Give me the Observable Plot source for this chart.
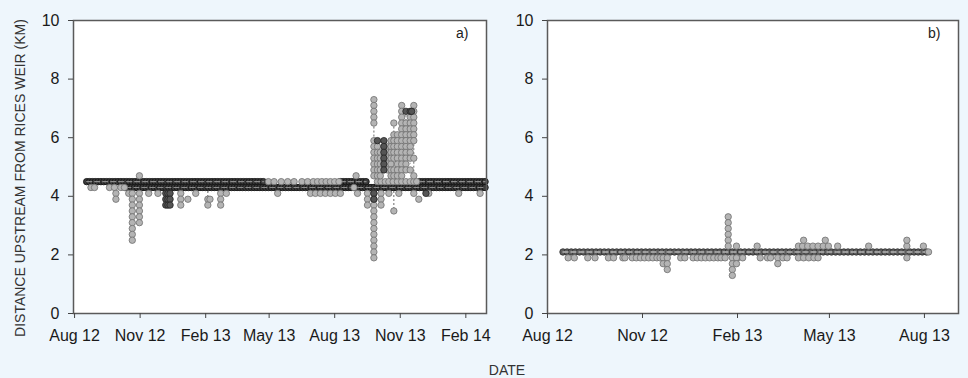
<!DOCTYPE html>
<html>
<head>
<meta charset="utf-8">
<script src="https://cdn.jsdelivr.net/npm/d3@7"></script>
<script src="https://cdn.jsdelivr.net/npm/@observablehq/plot@0.6"></script>
<style>
  html, body { margin: 0; padding: 0; background: #eef6fc; }
  #wrap { position: relative; width: 968px; height: 378px; overflow: hidden; background: #eef6fc; }
  #pa, #pb { position: absolute; top: 0; }
  #pa { left: 0; }
  #pb { left: 490px; }
  .ylab { position: absolute; left: 20px; top: 178px; transform: translate(-50%, -50%) rotate(-90deg);
          white-space: nowrap; font: 14px "Liberation Sans", Arial, sans-serif; color: #333; }
  .xlab { position: absolute; left: 507px; top: 370px; transform: translate(-50%, -50%);
          white-space: nowrap; font: 14px "Liberation Sans", Arial, sans-serif; color: #333; }
</style>
</head>
<body>
<div id="wrap">
  <div id="pa"></div>
  <div id="pb"></div>
  <div class="ylab">DISTANCE UPSTREAM FROM RICES WEIR (KM)</div>
  <div class="xlab">DATE</div>
</div>
<script>
// ---- data: days since 1 Aug 2012, distances in km ----
const DAY0 = Date.UTC(2012, 7, 1);

// tick labels
const aTickDates = ["2012-08-01","2012-11-01","2013-02-01","2013-05-01","2013-08-01","2013-11-01","2014-02-01"];
const bTickDates = ["2012-08-01","2012-11-01","2013-02-01","2013-05-01","2013-08-01"];
const yTicks = [0, 2, 4, 6, 8, 10];

// Panel a: dense daily detections (dark band)
const a45Dark = [17,21,25,29,33,37,41,45,49,53,57,61,65,69,73,77,81,85,89,93,97,101,105,109,113,117,121,125,129,133,137,141,145,149,153,157,161,165,169,173,177,181,185,189,193,197,201,205,209,213,217,221,225,229,233,237,241,245,249,253,257,261,265,
  373,377,381,385,389,393,397,401,405,409,
  484,488,492,496,500,504,508,512,516,520,524,528,532,536,540,544,548,552,556,560,564,568,572,576];
const a45Light = [272,280,290,299,308,319,327,335,341,347,353,359,365,371,425,430,436,441,447,453,459,465,471,476,480];
const a43Dark = [72,76,80,84,88,92,96,100,104,108,112,116,120,124,128,132,136,140,144,148,152,156,160,164,168,172,176,180,184,188,192,196,200,204,208,212,216,220,224,228,232,236,240,244,248,252,256,260,264,268,272,276,280,284,288,292,296,300,304,308,312,316,320,324,328,332,336,340,344,348,352,356,360,364,368,372,376,380,384,388,392,396,400,404,408,412,416,420,424,428,432,436,440,444,448,452,456,460,464,468,472,476,480,484,488,492,496,500,504,508,512,516,520,524,528,532,536,540,544,548,552,556,560,564,568,572,576];

// Panel a: scattered single detections [day, km]
const aScatter = [[23,4.3],[28,4.3],[49,4.3],[56,4.3],[65,4.3],[70,4.3],
  [58,4.1],[58,3.9],[76,4.1],[91,4.7],[104,4.1],[117,4.1],[149,4.1],[149,3.9],[149,3.7],[159,3.9],[170,4.1],
  [187,3.9],[187,3.7],[190,3.9],[205,4.1],[205,3.9],[205,3.7],[213,4.1],
  [285,4.1],[331,4.1],[338,4.1],[345,4.1],[352,4.1],[359,4.1],[366,4.1],[373,4.1],
  [392,4.3],[397,4.1],[395,4.7],[411,4.1],[411,3.9],[411,3.7],[430,4.1],[430,3.9],[430,3.7],
  [441,4.1],[448,3.5],[455,4.1],[476,4.1],[483,3.9],[497,4.1],[539,4.1],[569,4.1]];

// Panel a: vertical runs of detections [day, [km...]]
const aColumns = [
  [81, [4.1,3.9,3.7,3.5,3.3,3.1,2.9,2.7,2.5]],
  [91, [4.1,3.9,3.7,3.5,3.3,3.1]],
  [420, [7.3,7.1,6.9,6.7,6.5,5.9,5.7,5.5,5.3,5.1,4.9,4.7,4.1,3.9,3.7,3.5,3.3,3.1,2.9,2.7,2.5,2.3,2.1,1.9]],
  [425, [5.7,5.5,5.3,5.1,4.9,4.7]],
  [429, [5.5,5.3,5.1,4.9,4.7]],
  [439, [5.7,5.5,5.3,5.1,4.9]],
  [444, [5.9,5.7,5.5,5.3,5.1,4.9,4.7]],
  [448, [6.5,6.1,5.9,5.7,5.5,5.3,4.9,4.7]],
  [453, [6.1,5.9,5.7,5.5,5.3,5.1,4.9,4.7]],
  [459, [7.1,6.9,6.7,6.5,6.3,6.1,5.9,5.7,5.5,5.3,5.1,4.9,4.7]],
  [465, [6.5,6.3,6.1,5.9,5.7,5.5,5.3,5.1,4.9]],
  [471, [6.7,6.5,6.3,6.1,5.9,5.7,5.5,5.3,4.9]],
  [476, [7.1,6.9,6.7,6.5,6.3,6.1,5.9,5.3,4.7]]
];
// Panel a: overlapping (dark) detections [day, km]
const aDark = [[128,4.1],[128,3.9],[128,3.7],[131,4.1],[131,3.9],[131,3.7],[134,4.1],[134,3.9],[134,3.7],
  [425,5.9],[434,5.9],[434,5.7],[434,5.5],[434,5.3],[434,5.1],[434,4.9],[465,6.9],[471,6.9],[473,6.9],[493,4.1],[420,4.1],[420,3.9]];
// Panel a: dashed links between successive detections [day, km from, km to]
const aLinks = [[420,6.5,5.9],[187,4.3,3.9],[205,4.3,4.1],[213,4.3,4.1],[448,4.3,3.5],[448,6.5,6.1],
  [459,6.5,5.1],[465,6.9,5.1],[471,6.9,5.1],[476,5.9,5.3],[476,5.3,4.7]];

// Panel b
const b21Dark = [15,19,23,27,31,35,39,43,47,51,55,59,63,67,71,75,79,83,87,91,95,99,103,107,111,115,119,123,127,131,135,139,143,147,151,155,159,163,167,171,175,179,183,187,191,195,199,203,207,211,215,219,223,227,231,235,239,243,247,251,255,259,263,267,271,275,279,283,287,291,295,299,303,307,311,315,319,323,327,331,335,339,343,347,351,355,359,363,367];
const b19 = [20,26,39,46,59,64,73,75,82,86,90,94,98,102,106,109,112,129,133,141,145,149,153,157,161,165,168,172,184,189,206,213,216,223,228,232,243,248,253,258,262,348];
const bScatter = [[112,1.7],[223,1.7],[203,2.3],[243,2.3],[247,2.3],[252,2.3],[257,2.3],[262,2.3],[267,2.3],[272,2.3],
  [281,2.3],[311,2.3],[348,2.3],[364,2.3],[248,2.5],[269,2.5],[348,2.5],[369,2.1]];
const bColumns = [
  [116, [1.9,1.7,1.5]],
  [175, [3.3,3.1,2.9,2.7,2.5,2.3]],
  [179, [1.9,1.7,1.5,1.3]],
  [183, [2.3,1.9,1.7]]
];
const bLinks = [[348,2.5,1.9],[175,2.1,2.3]];

// ---- helpers (build tables from the arrays) ----
const toDate = d => new Date(DAY0 + d * 864e5);
const rowsOf = (days, km) => days.map(d => ({date: toDate(d), km}));
const rowsPairs = pairs => pairs.map(([d, km]) => ({date: toDate(d), km}));
const rowsCols = cols => cols.flatMap(([d, kms]) => kms.map(km => ({date: toDate(d), km})));
const rowsLinks = links => links.map(([d, a, b]) => ({date: toDate(d), a, b}));
const parseTicks = t => t.map(s => new Date(s + "T00:00:00Z"));
// split a band into continuous runs (for the dashed track drawn through it)
const runsOf = (days, km, tag) => {
  let seg = 0;
  return days.map((d, i) => {
    if (i > 0 && d - days[i - 1] > 8) seg++;
    return {date: toDate(d), km, seg: tag + "-" + seg};
  });
};

const FONT = "'Liberation Sans', Arial, Helvetica, sans-serif";
const lightDot = {x: "date", y: "km", r: 3.2, fill: "#b4b4b4", stroke: "#6f6f6f", strokeWidth: 0.8};
const darkDot = {x: "date", y: "km", r: 3.2, fill: "#555", stroke: "#222", strokeWidth: 0.8};
const linkRule = {x: "date", y1: "a", y2: "b", stroke: "#444", strokeWidth: 0.8, strokeDasharray: "2,2"};

function panel({width, marginLeft, marginRight, domain, ticks, bands, bandStyle, tracks, trackStyle, light, dark, links, label}) {
  return Plot.plot({
    width, height: 340,
    marginLeft, marginRight, marginTop: 20, marginBottom: 27,
    style: {background: "transparent", fontFamily: FONT, fontSize: "16px", color: "#1a1a1a", overflow: "visible"},
    x: {type: "utc", domain, label: null},
    y: {domain: [0, 10], label: null},
    marks: [
      Plot.frame({fill: "white"}),
      Plot.ruleX(links, linkRule),
      Plot.dot(bands, {x: "date", y: "km", r: 3.2, ...bandStyle}),
      Plot.line(tracks, {x: "date", y: "km", z: "seg", ...trackStyle}),
      Plot.dot(light, lightDot),
      Plot.dot(dark, darkDot),
      Plot.frame({stroke: "#5a5a5a", strokeWidth: 1.5}),
      Plot.axisY(yTicks, {tickSize: 5, tickPadding: 9, stroke: "#444", fontSize: 16, fill: "#1a1a1a"}),
      Plot.axisX(parseTicks(ticks), {tickSize: 5, tickPadding: 11, stroke: "#444", tickFormat: d3.utcFormat("%b %y"), fontSize: 16, fill: "#1a1a1a"}),
      Plot.text([label], {frameAnchor: "top-right", dx: -18, dy: 8, lineAnchor: "top", textAnchor: "end", fontSize: 14, fill: "#222"})
    ]
  });
}

const pa = panel({
  width: 490, marginLeft: 73, marginRight: 4,
  domain: [new Date(Date.UTC(2012, 6, 30, 12)), new Date(Date.UTC(2014, 2, 2))],
  ticks: aTickDates,
  bands: [...rowsOf(a45Dark, 4.5), ...rowsOf(a43Dark, 4.3)],
  bandStyle: {fill: "#3c3c3c", stroke: "#141414", strokeWidth: 0.9},
  tracks: [...runsOf(a45Dark, 4.5, "a45"), ...runsOf(a43Dark, 4.3, "a43")],
  trackStyle: {stroke: "#8c8c8c", strokeWidth: 1.2, strokeDasharray: "5,3"},
  light: [...rowsOf(a45Light, 4.5), ...rowsPairs(aScatter), ...rowsCols(aColumns)],
  dark: rowsPairs(aDark),
  links: rowsLinks(aLinks),
  label: "a)"
});
document.getElementById("pa").appendChild(pa);

const pb = panel({
  width: 478, marginLeft: 57, marginRight: 10,
  domain: [new Date(Date.UTC(2012, 7, 1)), new Date(Date.UTC(2013, 8, 3))],
  ticks: bTickDates,
  bands: rowsOf(b21Dark, 2.1),
  bandStyle: {fill: "#5e5e5e", stroke: "#333", strokeWidth: 0.9},
  tracks: runsOf(b21Dark, 2.1, "b21"),
  trackStyle: {stroke: "#b5b5b5", strokeWidth: 1.4, strokeDasharray: "5,3"},
  light: [...rowsOf(b19, 1.9), ...rowsPairs(bScatter), ...rowsCols(bColumns)],
  dark: [],
  links: rowsLinks(bLinks),
  label: "b)"
});
document.getElementById("pb").appendChild(pb);
</script>
</body>
</html>
